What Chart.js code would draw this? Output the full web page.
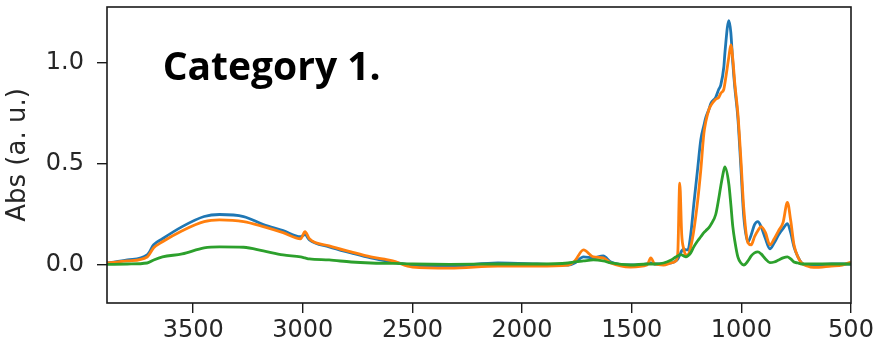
<!DOCTYPE html>
<html>
<head>
<meta charset="utf-8">
<script src="https://cdn.jsdelivr.net/npm/chart.js@4"></script>
<style>
  html, body { margin: 0; padding: 0; background: #fff; }
  #wrap { width: 877px; height: 350px; }
</style>
</head>
<body>
<div id="wrap"><canvas id="c" width="877" height="350"></canvas></div>
<script>
// Wavenumbers (cm^-1)
const wavenumbers = [3893, 3800, 3710, 3680, 3640, 3550, 3450, 3380, 3270, 3180, 3090, 3010, 2990, 2970, 2880, 2780, 2690, 2590, 2500, 2330, 2110, 1930, 1790, 1760, 1720, 1675, 1630, 1595, 1505, 1430, 1413, 1395, 1355, 1320, 1299, 1290, 1281, 1272, 1263, 1253, 1244, 1231, 1217, 1199, 1185, 1171, 1162, 1148, 1139, 1117, 1103, 1094, 1080, 1075, 1057, 1048, 1039, 1030, 1016, 1002, 989, 970, 955, 940, 925, 910, 890, 870, 850, 830, 810, 790, 775, 760, 742, 725, 700, 670, 590, 540, 500];

const blueSeries = [0.01, 0.025, 0.05, 0.10, 0.13, 0.19, 0.24, 0.25, 0.24, 0.20, 0.17, 0.14, 0.15, 0.125, 0.09, 0.06, 0.035, 0.015,
  0.0, -0.005, 0.01, 0.005,
  0.0, 0.01, 0.04, 0.035, 0.045, 0.015, 0.0, 0.005, 0.01, 0.005, 0.005, 0.01,
  0.02, 0.03, 0.05, 0.07, 0.08, 0.075, 0.075, 0.15, 0.30, 0.48, 0.62, 0.69, 0.73, 0.77, 0.80, 0.83, 0.87, 0.89, 0.98, 1.05, 1.21, 1.15, 1.0, 0.88, 0.73, 0.48,
  0.24, 0.115, 0.15, 0.20, 0.215, 0.19, 0.13, 0.08, 0.11, 0.15, 0.18, 0.205, 0.16, 0.09, 0.04, 0.01, 0.0, 0.0, 0.005, 0.005, 0.005];

const orangeSeries = [0.01, 0.02, 0.04, 0.085, 0.115, 0.17, 0.215, 0.223, 0.215, 0.19, 0.16, 0.13, 0.165, 0.13, 0.095, 0.065, 0.04, 0.02,
  -0.01, -0.015, -0.005, -0.005,
  0.0, 0.02, 0.075, 0.04, 0.035, 0.01, -0.01, 0.0, 0.035, 0.005, 0.0, 0.01,
  0.02, 0.06, 0.405, 0.15, 0.08, 0.05, 0.05, 0.09, 0.17, 0.32, 0.47, 0.65, 0.71, 0.77, 0.79, 0.82, 0.83, 0.85, 0.87, 0.90, 1.03, 1.09, 1.02, 0.90, 0.75, 0.52,
  0.28, 0.11, 0.10, 0.14, 0.17, 0.19, 0.16, 0.10, 0.13, 0.17, 0.21, 0.31, 0.22, 0.10, 0.04, 0.01, -0.005, -0.012, -0.005, 0.0, 0.015];

const greenSeries = [0.003, 0.005, 0.01, 0.025, 0.04, 0.055, 0.085, 0.09, 0.088, 0.07, 0.05, 0.04, 0.035, 0.03, 0.025, 0.015, 0.01, 0.008,
  0.005, 0.003, 0.005, 0.005,
  0.01, 0.015, 0.02, 0.025, 0.02, 0.01, 0.0, 0.005, 0.005, 0.005, 0.01, 0.025,
  0.04, 0.045, 0.05, 0.05, 0.045, 0.04, 0.045, 0.06, 0.09, 0.12, 0.14, 0.16, 0.17, 0.185, 0.20, 0.25, 0.33, 0.39, 0.47, 0.485, 0.40, 0.30, 0.19, 0.12, 0.04, 0.01,
  0.0, 0.02, 0.045, 0.06, 0.065, 0.055, 0.03, 0.012, 0.015, 0.025, 0.035, 0.04, 0.03, 0.015, 0.01, 0.005, 0.005, 0.005, 0.005, 0.005, 0.005];

const xTicks = [3500, 3000, 2500, 2000, 1500, 1000, 500];
const yTicks = [0.0, 0.5, 1.0];
const yTickLabels = ["0.0", "0.5", "1.0"];
const annotationText = "Category 1.";
const yAxisLabel = "Abs (a. u.)";

function toPoints(ys) { return wavenumbers.map((w, i) => ({ x: w, y: ys[i] })); }

const framePlugin = {
  id: 'frame',
  afterDatasetsDraw(chart) {
    const a = chart.chartArea, ctx = chart.ctx;
    ctx.save();
    ctx.strokeStyle = '#1a1a1a';
    ctx.lineWidth = 1.6;
    ctx.strokeRect(a.left, a.top, a.right - a.left, a.bottom - a.top);
    ctx.restore();
  },
  afterDraw(chart) {
    const ctx = chart.ctx, xs = chart.scales.x, ys = chart.scales.y;
    ctx.save();
    ctx.font = 'bold 39px "Open Sans"';
    ctx.fillStyle = '#000';
    ctx.textAlign = 'center';
    ctx.textBaseline = 'alphabetic';
    ctx.fillText(annotationText, xs.getPixelForValue(3142), ys.getPixelForValue(0.915));
    ctx.restore();
  }
};

new Chart(document.getElementById('c'), {
  type: 'line',
  data: {
    datasets: [
      { label: 'A', data: toPoints(blueSeries), borderColor: '#1f77b4', order: 2 },
      { label: 'B', data: toPoints(orangeSeries), borderColor: '#ff7f0e', order: 1 },
      { label: 'C', data: toPoints(greenSeries), borderColor: '#2ca02c', order: 0 }
    ]
  },
  options: {
    responsive: false,
    animation: false,
    devicePixelRatio: 1,
    layout: { padding: { left: 0, right: 26, top: 7, bottom: 0 } },
    elements: {
      point: { radius: 0 },
      line: { borderWidth: 2.8, cubicInterpolationMode: 'monotone', fill: false }
    },
    plugins: { legend: { display: false }, tooltip: { enabled: false } },
    scales: {
      x: {
        type: 'linear',
        reverse: true,
        min: 500,
        max: 3893,
        afterFit(s) { s.height = 47; s.paddingLeft = 0; s.paddingRight = 0; },
        afterBuildTicks(s) { s.ticks = xTicks.map(v => ({ value: v })); },
        border: { display: false },
        grid: { display: true, drawOnChartArea: false, drawTicks: true, tickLength: 10, color: '#1a1a1a', lineWidth: 1.4 },
        ticks: { color: '#262626', font: { family: 'DejaVu Sans', size: 24 }, padding: 3, maxRotation: 0, autoSkip: false,
                 callback: (v) => String(v) }
      },
      y: {
        type: 'linear',
        min: -0.188,
        max: 1.277,
        afterFit(s) { s.width = 107; s.paddingTop = 0; s.paddingBottom = 0; },
        afterBuildTicks(s) { s.ticks = yTicks.map(v => ({ value: v })); },
        border: { display: false },
        grid: { display: true, drawOnChartArea: false, drawTicks: true, tickLength: 10, color: '#1a1a1a', lineWidth: 1.4 },
        ticks: { color: '#262626', font: { family: 'DejaVu Sans', size: 24 }, padding: 13, autoSkip: false,
                 callback: (v) => { const i = yTicks.indexOf(v); return i >= 0 ? yTickLabels[i] : ''; } },
        title: { display: true, text: yAxisLabel, color: '#262626', font: { family: 'DejaVu Sans', size: 26 }, padding: { top: 3, bottom: 0 } }
      }
    }
  },
  plugins: [framePlugin]
});
</script>
</body>
</html>
